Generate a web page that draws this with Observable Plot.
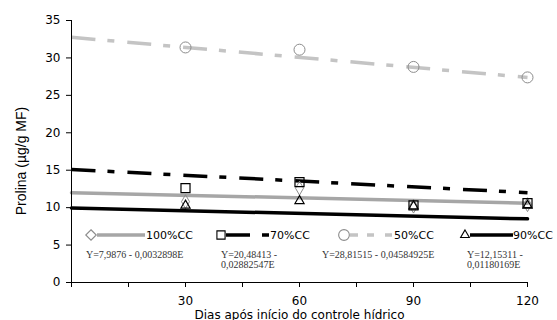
<!DOCTYPE html>
<html>
<head>
<meta charset="utf-8">
<script src="https://cdn.jsdelivr.net/npm/d3@7"></script>
<script src="https://cdn.jsdelivr.net/npm/@observablehq/plot@0.6"></script>
<style>
  html, body { margin: 0; padding: 0; background: white; }
  #wrap { position: relative; width: 557px; height: 320px; }
  #legend { position: absolute; left: 0; top: 0; pointer-events: none; }
</style>
</head>
<body>
<div id="wrap"></div>
<script>
// ---- data ----
const days = [30, 60, 90, 120];
const cc100 = [10.8, 12.6, 10.2, 10.4];
const cc70 = [12.6, 13.4, 10.3, 10.6];
const cc50 = [31.4, 31.1, 28.8, 27.4];
const cc90 = [10.3, 10.9, 10.2, 10.3];

const trendDays = [0, 120];
const trend100 = [12.0, 10.6];
const trend70 = [15.1, 12.0];
const trend50 = [32.75, 27.4];
const trend90 = [9.95, 8.5];

const seriesLabels = ["100%CC", "70%CC", "50%CC", "90%CC"];
const equations = [
  ["Y=7,9876 - 0,0032898E"],
  ["Y=20,48413 -", "0,02882547E"],
  ["Y=28,81515 - 0,04584925E"],
  ["Y=12,15311 -", "0,01180169E"]
];
const xTicks = [0, 15, 30, 45, 60, 75, 90, 105, 120];
const xTickLabels = [30, 60, 90, 120];
const yTicks = [0, 5, 10, 15, 20, 25, 30, 35];
const xTitle = "Dias após início do controle hídrico";
const yTitle = "Prolina (µg/g MF)";

// ---- build tables ----
const pts = (vals) => days.map((d, i) => ({x: d, y: vals[i]}));
const tr = (vals) => trendDays.map((d, i) => ({x: d, y: vals[i]}));

const GRAY_LIGHT = "#c4c4c4";
const GRAY = "#a6a6a6";
const GRAY_MARK = "#8c8c8c";
const DASH = "24,12,7,13";

const chart = Plot.plot({
  width: 557,
  height: 320,
  marginLeft: 71,
  marginRight: 30,
  marginTop: 20,
  marginBottom: 38,
  style: {fontFamily: "DejaVu Sans, sans-serif", fontSize: "12px", color: "black", background: "white"},
  x: {domain: [0, 120]},
  y: {domain: [0, 35]},
  marks: [
    Plot.line(tr(trend50), {x: "x", y: "y", stroke: GRAY_LIGHT, strokeWidth: 3.5, strokeDasharray: DASH, strokeLinecap: "butt"}),
    Plot.line(tr(trend70), {x: "x", y: "y", stroke: "black", strokeWidth: 3.5, strokeDasharray: DASH, strokeLinecap: "butt"}),
    Plot.line(tr(trend100), {x: "x", y: "y", stroke: GRAY, strokeWidth: 3.5}),
    Plot.line(tr(trend90), {x: "x", y: "y", stroke: "black", strokeWidth: 3.5}),
    Plot.dot(pts(cc50), {x: "x", y: "y", symbol: "circle", r: 5.5, stroke: GRAY_MARK, fill: "none", strokeWidth: 1}),
    Plot.dot(pts(cc100), {x: "x", y: "y", symbol: "diamond", r: 4.2, stroke: GRAY_MARK, fill: "none", strokeWidth: 1}),
    Plot.dot(pts(cc90), {x: "x", y: "y", symbol: "triangle", r: 3.4, stroke: "black", fill: "none", strokeWidth: 1.2}),
    Plot.dot(pts(cc70), {x: "x", y: "y", symbol: "square", r: 5.1, stroke: "black", fill: "none", strokeWidth: 1.2}),
    Plot.ruleX([0], {stroke: "black"}),
    Plot.ruleY([0], {stroke: "black"}),
    Plot.axisY({ticks: yTicks, tickSize: 5, tickPadding: 6, label: null}),
    Plot.axisX({ticks: xTicks, tickSize: 5, tickPadding: 9, tickFormat: d => xTickLabels.includes(d) ? String(d) : "", label: xTitle, labelAnchor: "center", labelArrow: "none", labelOffset: 36})
  ]
});
document.getElementById("wrap").appendChild(chart);

// ---- legend / title overlay ----
const svg = d3.select("#wrap").append("svg")
  .attr("id", "legend").attr("width", 557).attr("height", 320);

svg.append("text")
  .attr("transform", "translate(21,161) rotate(-90)")
  .attr("text-anchor", "middle").attr("dy", "0.35em")
  .attr("font-family", "Liberation Sans, Arial, sans-serif").attr("font-size", 14)
  .text(yTitle);

const legendLayout = [
  {sym: "diamond", symX: 91, stroke: GRAY_MARK, lineColor: GRAY, lineX: [97, 145], dash: null, labelX: 146, eqX: 86},
  {sym: "square", symX: 221, stroke: "black", lineColor: "black", lineX: [226, 269], dash: "24,12,7", labelX: 270, eqX: 221},
  {sym: "circle", symX: 344, stroke: GRAY_MARK, lineColor: GRAY_LIGHT, lineX: [350, 394], dash: "8,9,7,11,7", labelX: 394, eqX: 322},
  {sym: "triangle", symX: 465, stroke: "black", lineColor: "black", lineX: [470, 513], dash: null, labelX: 513, eqX: 467}
];
const symTypes = {diamond: d3.symbolDiamond2, square: d3.symbolSquare2, circle: d3.symbolCircle, triangle: d3.symbolTriangle2};
const symSizes = {diamond: 70, square: 85, circle: 90, triangle: 55};
const legY = 235;

legendLayout.forEach((L, i) => {
  const ln = svg.append("line")
    .attr("x1", L.lineX[0]).attr("x2", L.lineX[1]).attr("y1", legY).attr("y2", legY)
    .attr("stroke", L.lineColor).attr("stroke-width", 3.5);
  if (L.dash) ln.attr("stroke-dasharray", L.dash);
  svg.append("path")
    .attr("d", d3.symbol(symTypes[L.sym], symSizes[L.sym])())
    .attr("transform", `translate(${L.symX},${legY})`)
    .attr("fill", "white").attr("stroke", L.stroke).attr("stroke-width", 1.1);
  svg.append("text")
    .attr("x", L.labelX).attr("y", legY).attr("dy", "0.36em")
    .attr("font-family", "DejaVu Sans, sans-serif").attr("font-size", 11)
    .text(seriesLabels[i]);
  equations[i].forEach((t, j) => {
    svg.append("text")
      .attr("x", L.eqX).attr("y", 254 + j * 10).attr("dy", "0.35em")
      .attr("font-family", "Liberation Serif, Times New Roman, serif").attr("font-size", 10)
      .attr("fill", "#333")
      .text(t);
  });
});
</script>
</body>
</html>
